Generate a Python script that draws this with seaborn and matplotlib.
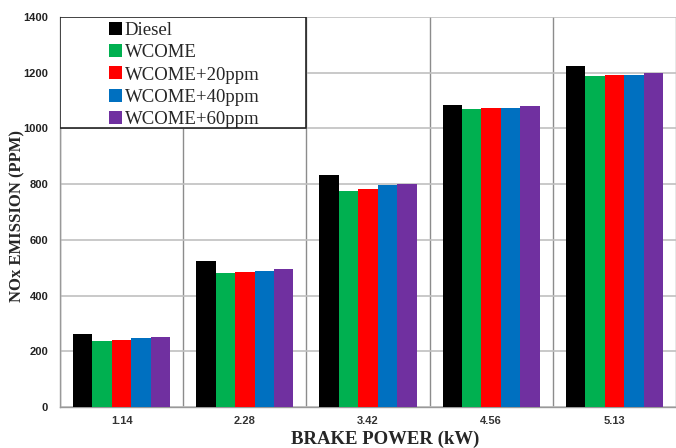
import seaborn as sns
import matplotlib.pyplot as plt
import pandas as pd
from matplotlib.patches import Rectangle

power = ["1.14", "2.28", "3.42", "4.56", "5.13"]
fuels = ["Diesel", "WCOME", "WCOME+20ppm", "WCOME+40ppm", "WCOME+60ppm"]
diesel = [263, 523, 833, 1083, 1225]
wcome = [238, 481, 776, 1071, 1188]
wcome20 = [240, 484, 781, 1075, 1191]
wcome40 = [246, 490, 796, 1075, 1191]
wcome60 = [250, 494, 800, 1080, 1198]
colors = ["#000000", "#00B050", "#FF0000", "#0070C0", "#7030A0"]

rows = []
for fuel, vals in zip(fuels, [diesel, wcome, wcome20, wcome40, wcome60]):
    for p, v in zip(power, vals):
        rows.append({"power": p, "fuel": fuel, "nox": v})
df = pd.DataFrame(rows)

sns.set_style("white")
fig = plt.figure(figsize=(6.76, 4.48), dpi=100)
ax = fig.add_axes([60 / 676, 1 - 407 / 448, 616 / 676, 390 / 448])

sns.barplot(data=df, x="power", y="nox", hue="fuel", order=power,
            hue_order=fuels, palette=colors, width=0.79, gap=0,
            saturation=1, errorbar=None, ax=ax, zorder=3, linewidth=0)

ax.set_ylim(0, 1400)
ax.set_xlim(-0.5, len(power) - 0.5)
ax.set_yticks(range(0, 1401, 200))
ax.set_xticks(range(len(power)))
ax.set_xticks([i - 0.5 for i in range(len(power) + 1)], minor=True)

tick_font = dict(family="Liberation Sans", weight="bold", size=8)
ax.set_yticklabels([str(v) for v in range(0, 1401, 200)], fontdict=tick_font)
ax.set_xticklabels(power, fontdict=tick_font)
ax.tick_params(axis="x", which="major", length=0, pad=6.5, labelcolor="#333333")
ax.tick_params(axis="x", which="minor", length=4, width=1, color="#999999")
ax.tick_params(axis="y", which="major", length=3, width=1, color="#999999",
               pad=5.5, labelcolor="#222222")

ax.grid(axis="y", which="major", color="#c0c0c0", linewidth=1.2, zorder=0)
ax.grid(axis="x", which="minor", color="#8c8c8c", linewidth=1, zorder=0)
ax.grid(axis="x", which="major", visible=False)
ax.set_axisbelow(True)

for side in ["top", "right"]:
    ax.spines[side].set_visible(False)
for side in ["left", "bottom"]:
    ax.spines[side].set_color("#999999")
    ax.spines[side].set_linewidth(1)

ax.set_xlabel("BRAKE POWER (kW)", family="Liberation Serif", weight="bold",
              size=13.5)
ax.set_ylabel("NOx EMISSION (PPM)", family="Liberation Serif", weight="bold",
              size=12)
ax.xaxis.set_label_coords((385 - 60) / 616, (407 - 431) / 390)
ax.yaxis.set_label_coords((25 - 60) / 616, (407 - 216) / 390)

# legend box spans the first two categories, 1000..1400
ax.add_patch(Rectangle((-0.5, 1000), 2, 400, facecolor="white",
                       edgecolor="#222222", linewidth=1.2, zorder=4))
handles, labels = ax.get_legend_handles_labels()
ax.legend(handles, labels, loc="upper left",
          bbox_to_anchor=((109 - 60) / 616, 1 - 5 / 390),
          frameon=False, borderpad=0, borderaxespad=0,
          prop=dict(family="Liberation Serif", size=13.5),
          handlelength=0.7, handleheight=0.7, handletextpad=0.15,
          labelspacing=0.27).set_zorder(5)

fig.savefig("out.png", dpi=100)
